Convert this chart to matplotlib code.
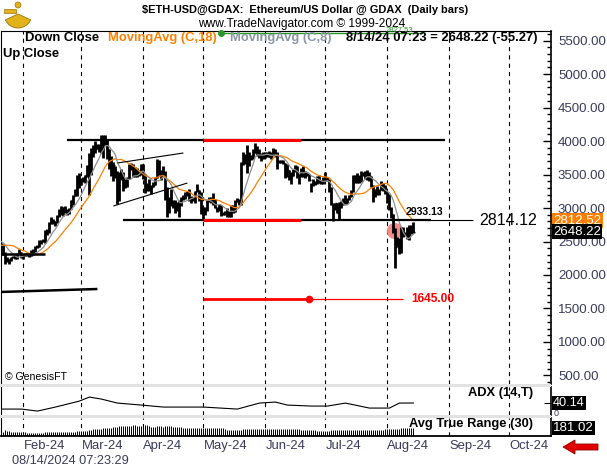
import matplotlib
matplotlib.use("Agg")
import matplotlib.pyplot as plt
import matplotlib.dates as mdates
import matplotlib.transforms as mtrans
from matplotlib.patches import Rectangle, Polygon, Wedge, Circle
from matplotlib.ticker import MultipleLocator, FormatStrFormatter
import pandas as pd

plt.rcParams['font.family'] = ['Liberation Sans', 'DejaVu Sans']
plt.rcParams['lines.scale_dashes'] = False

# ---------------- data (daily bars, 2024-01-21 .. 2024-08-14) ----------------
first_day = '2024-01-21'
# closes of the days before the first shown bar (only feed the moving averages)
warmup_closes = [2270, 2268, 2240, 2222, 2330, 2345, 2585, 2620, 2525, 2575,
                 2470, 2510, 2585, 2530, 2470, 2490, 2470]

closes = [
    # Jan
    2455, 2315, 2243, 2236, 2218, 2268, 2267, 2257, 2318, 2343, 2283,
    # Feb
    2303, 2309, 2296, 2289, 2301, 2373, 2425, 2420, 2486, 2501, 2507, 2660, 2643, 2775, 2824,
    2803, 2785, 2881, 2945, 3014, 2967, 2972, 2922, 2992, 3113, 3180, 3240, 3385, 3342,
    # Mar
    3434, 3420, 3488, 3630, 3552, 3820, 3868, 3883, 3905, 3878, 4066, 3980, 4005, 3880, 3735,
    3525, 3640, 3520, 3160, 3515, 3495, 3335, 3325, 3455, 3590, 3590, 3500, 3560, 3510, 3505, 3645,
    # Apr
    3505, 3280, 3310, 3330, 3320, 3350, 3455, 3700, 3505, 3545, 3505, 3230, 3010, 3155, 3100,
    3085, 2985, 3065, 3055, 3155, 3150, 3200, 3220, 3140, 3155, 3130, 3250, 3265, 3215, 3015,
    # May
    2970, 2990, 3105, 3120, 3135, 3060, 3005, 2975, 3035, 2910, 2910, 2935, 2950, 2880, 3035,
    2945, 3090, 3120, 3070, 3660, 3790, 3740, 3780, 3730, 3750, 3825, 3890, 3840, 3765, 3745, 3760,
    # Jun
    3815, 3780, 3765, 3810, 3865, 3810, 3680, 3680, 3705, 3665, 3500, 3560, 3470, 3480, 3565,
    3620, 3510, 3480, 3560, 3515, 3520, 3490, 3420, 3350, 3390, 3370, 3450, 3380, 3380, 3435,
    # Jul
    3440, 3420, 3295, 3060, 2980, 3070, 2930, 3020, 3065, 3100, 3100, 3130, 3180, 3250, 3485,
    3445, 3390, 3425, 3505, 3515, 3535, 3440, 3480, 3335, 3175, 3275, 3250, 3270, 3320, 3280, 3230,
    # Aug
    3200, 2990, 2905, 2690, 2420, 2460, 2340, 2680, 2600, 2610, 2555, 2720, 2703.49, 2648.22,
]
highs = [
    2480, 2460, 2350, 2265, 2240, 2275, 2280, 2305, 2325, 2390, 2350,
    2310, 2330, 2325, 2310, 2370, 2390, 2430, 2450, 2520, 2515, 2535, 2665, 2685, 2785, 2865,
    2830, 2810, 2890, 2985, 3030, 3010, 3030, 2990, 3005, 3115, 3190, 3290, 3490, 3520,
    3450, 3460, 3490, 3640, 3822, 3900, 3935, 3995, 3950, 3960, 4090, 4090, 4085, 4020, 3880,
    3780, 3680, 3630, 3545, 3530, 3580, 3530, 3440, 3465, 3660, 3670, 3660, 3610, 3590, 3560, 3650,
    3650, 3505, 3370, 3440, 3340, 3390, 3465, 3725, 3720, 3560, 3620, 3555, 3310, 3170, 3280,
    3125, 3120, 3095, 3125, 3170, 3195, 3240, 3255, 3290, 3175, 3165, 3260, 3355, 3275, 3240,
    3020, 3020, 3125, 3170, 3170, 3220, 3130, 3020, 3060, 3050, 2945, 2960, 2995, 2955, 3045,
    3040, 3120, 3145, 3135, 3690, 3840, 3810, 3935, 3830, 3790, 3880, 3975, 3930, 3880, 3825, 3840,
    3830, 3835, 3850, 3830, 3890, 3880, 3840, 3715, 3720, 3715, 3670, 3655, 3560, 3535, 3585,
    3645, 3620, 3510, 3595, 3625, 3550, 3525, 3510, 3380, 3430, 3400, 3480, 3490, 3415, 3460,
    3530, 3470, 3430, 3310, 3070, 3080, 3080, 3090, 3110, 3150, 3200, 3150, 3200, 3275, 3495,
    3495, 3515, 3490, 3545, 3540, 3545, 3565, 3540, 3485, 3340, 3290, 3330, 3290, 3400, 3370, 3350,
    3240, 3215, 3020, 2910, 2700, 2560, 2550, 2720, 2710, 2640, 2720, 2740, 2740, 2785,
]
lows = [
    2450, 2300, 2170, 2195, 2170, 2203, 2250, 2240, 2245, 2310, 2260,
    2240, 2290, 2290, 2275, 2280, 2300, 2350, 2400, 2415, 2470, 2490, 2480, 2600, 2630, 2755,
    2765, 2730, 2780, 2870, 2895, 2880, 2925, 2900, 2910, 2985, 3040, 3180, 3180, 3300,
    3340, 3390, 3380, 3460, 3200, 3500, 3760, 3820, 3875, 3830, 3820, 3740, 3940, 3725, 3580,
    3480, 3400, 3450, 3060, 3100, 3420, 3250, 3300, 3310, 3430, 3560, 3460, 3465, 3470, 3480, 3500,
    3430, 3220, 3250, 3255, 3210, 3310, 3340, 3450, 3490, 3415, 3480, 3120, 2870, 2925, 3030,
    2995, 2920, 2960, 2870, 3030, 3125, 3140, 3180, 3110, 3075, 3105, 3075, 3240, 3110, 2915,
    2815, 2890, 2955, 3090, 3080, 3045, 2995, 2935, 2955, 2880, 2890, 2900, 2870, 2865, 2865,
    2930, 2945, 3090, 3050, 3050, 3635, 3655, 3520, 3625, 3720, 3735, 3825, 3775, 3740, 3705, 3730,
    3750, 3760, 3755, 3730, 3780, 3755, 3575, 3665, 3665, 3650, 3445, 3470, 3425, 3360, 3475,
    3540, 3450, 3365, 3460, 3470, 3450, 3480, 3410, 3240, 3330, 3340, 3360, 3370, 3365, 3360,
    3425, 3405, 3240, 3050, 2810, 2970, 2930, 2825, 3005, 3045, 3055, 3060, 3125, 3160, 3240,
    3370, 3370, 3375, 3385, 3480, 3435, 3415, 3400, 3320, 3085, 3170, 3200, 3195, 3270, 3250, 3210,
    3080, 2970, 2850, 2630, 2110, 2420, 2310, 2330, 2560, 2580, 2540, 2520, 2610, 2620,
]

# ADX (14,T)
adx_dates = ['2024-01-21', '2024-01-31', '2024-02-08', '2024-02-17', '2024-02-29', '2024-03-05',
             '2024-03-11', '2024-03-19', '2024-03-31', '2024-04-11', '2024-05-01', '2024-05-18',
             '2024-05-29', '2024-06-06', '2024-06-12', '2024-06-24', '2024-07-02', '2024-07-11',
             '2024-07-23', '2024-08-02', '2024-08-07', '2024-08-14']
adx_values = [28, 28, 24, 32, 44, 52, 48, 40, 36, 32, 32, 28, 40, 42, 36, 34, 34, 40, 30, 30, 40, 40.14]

# drawn studies: (start date, end date, start price, end price)
resistance = ('2024-02-23', '2024-08-30', 4015, 4015)
resistance_red = ('2024-05-01', '2024-06-19', 4015, 4015)
support = ('2024-03-22', '2024-08-23', 2814.12, 2814.12)
support_ext = ('2024-08-20', '2024-09-13', 2814.12, 2814.12)
support_red = ('2024-05-01', '2024-06-19', 2814.12, 2814.12)
channel_top = ('2024-03-19', '2024-04-21', 3672, 3821)
channel_bottom = ('2024-03-17', '2024-04-23', 3030, 3373)
base_line = ('2024-01-20', '2024-02-12', 2315, 2315)
low_line = ('2024-01-20', '2024-03-09', 1746, 1791)
target_red = ('2024-05-01', '2024-06-23', 1645, 1645)
target_ext = ('2024-06-23', '2024-08-09', 1645, 1645)
green_line = ('2024-05-10', '2024-08-19', 5612, 5612)

month_ticks = ['2024-02-01', '2024-03-01', '2024-04-01', '2024-05-01', '2024-06-01',
               '2024-07-01', '2024-08-01', '2024-09-01', '2024-10-01']
month_labels = ['Feb-24', 'Mar-24', 'Apr-24', 'May-24', 'Jun-24', 'Jul-24', 'Aug-24', 'Sep-24', 'Oct-24']
price_ticks = list(range(500, 5501, 500))

# ---------------- derived studies ----------------
dates = pd.date_range(first_day, periods=len(closes), freq='D')
x = mdates.date2num(dates)
allc = pd.Series(warmup_closes + closes)
ma18 = allc.rolling(18).mean().values[len(warmup_closes):]
ma8 = allc.rolling(8).mean().values[len(warmup_closes):]
prev = pd.Series([warmup_closes[-1]] + closes[:-1])
h = pd.Series(highs)
l = pd.Series(lows)
tr = pd.concat([h - l, (h - prev).abs(), (l - prev).abs()], axis=1).max(axis=1)
atr = tr.rolling(30, min_periods=1).mean().values


def d(s):
    return mdates.date2num(pd.Timestamp(s))


# ---------------- figure ----------------
W, H = 607, 470
fig = plt.figure(figsize=(W / 100, H / 100), dpi=100)


def rect(x0, y0, x1, y1):
    return [x0 / W, 1 - y1 / H, (x1 - x0) / W, (y1 - y0) / H]


ax = fig.add_axes(rect(1, 31, 551, 384))
ax_adx = fig.add_axes(rect(1, 387, 551, 415), sharex=ax)
ax_atr = fig.add_axes(rect(1, 418, 551, 436), sharex=ax)

x0 = d(first_day) - 0.2
ax.set_xlim(x0, x0 + 275)
ax.set_ylim(373, 5642)
ax_adx.set_ylim(16.14, 72.14)
ax_atr.set_ylim(0, 400)

lab_col = '#3a3a5c'
for a in (ax, ax_adx, ax_atr):
    for s in a.spines.values():
        s.set_color('black')
    a.spines['top'].set_visible(False)
    a.spines['bottom'].set_visible(False)
    a.spines['right'].set_linewidth(1.2)
    for m in month_ticks:
        a.axvline(d(m), color='black', lw=0.8, ls=(0, (3, 3)), zorder=0.5)
ax.spines['top'].set_visible(True)
ax_atr.spines['bottom'].set_visible(True)
ax_atr.spines['bottom'].set_linewidth(1.3)

ax.yaxis.tick_right()
ax.set_yticks(price_ticks)
ax.yaxis.set_major_formatter(FormatStrFormatter('%.2f'))
ax.yaxis.set_minor_locator(MultipleLocator(100))
ax.tick_params(axis='y', which='major', direction='in', length=6, width=1,
               labelsize=9.5, labelcolor=lab_col, pad=5)
ax.tick_params(axis='y', which='minor', direction='in', length=3, width=1)

ax_adx.yaxis.tick_right()
ax_adx.set_yticks([40])
ax_adx.tick_params(axis='y', direction='in', length=5, labelright=False)
ax_atr.set_yticks([])

ax_atr.set_xticks([d(m) for m in month_ticks])
ax_atr.set_xticklabels(month_labels, ha='left')
ax_atr.tick_params(axis='x', length=0, pad=3, labelsize=9.4, labelcolor=lab_col)
for a in (ax, ax_adx):
    a.tick_params(axis='x', length=0, labelbottom=False)

# price bars
ax.vlines(x, lows, highs, colors='black', lw=2.0, zorder=2)
ax.hlines(closes, x, x + 0.7, colors='black', lw=1.0, zorder=2)
ax.plot(x, ma18, color='#ff8000', lw=0.9, zorder=3)
ax.plot(x, ma8, color='#8f8f8f', lw=0.9, zorder=3)


def seg(a, line, **kw):
    a.plot([d(line[0]), d(line[1])], [line[2], line[3]], solid_capstyle='butt', **kw)


seg(ax, resistance, color='black', lw=1.6, zorder=4)
seg(ax, resistance_red, color='#ff0000', lw=2.2, zorder=4)
seg(ax, support, color='black', lw=1.6, zorder=4)
seg(ax, support_ext, color='black', lw=0.8, zorder=4)
seg(ax, support_red, color='#ff0000', lw=2.2, zorder=4)
seg(ax, channel_top, color='black', lw=0.8, zorder=4)
seg(ax, channel_bottom, color='black', lw=0.8, zorder=4)
seg(ax, base_line, color='black', lw=1.8, zorder=4)
seg(ax, low_line, color='black', lw=1.8, zorder=4)
seg(ax, target_red, color='#ff0000', lw=2.0, zorder=4)
seg(ax, target_ext, color='#ff0000', lw=0.9, zorder=4)
ax.plot([d(target_red[1])], [target_red[3]], 'o', color='#ff0000', ms=4.5, zorder=5)
seg(ax, green_line, color='#2a962a', lw=1.0, zorder=4, clip_on=False)
ax.plot([d(green_line[0])], [green_line[2]], 'o', color='#2a962a', ms=4, zorder=5, clip_on=False)

ax.scatter([d('2024-08-04 18:00')], [2657], s=135, color='#f27f7f', alpha=0.9,
           edgecolors='none', zorder=1.5)

ax.text(d('2024-08-10'), 2935, '2933.13', fontsize=7.6, fontweight='bold', va='center', zorder=6)
ax.text(d('2024-09-15 18:00'), 2814.12, '2814.12', fontsize=11.5, va='center', zorder=6)
ax.text(d('2024-08-13'), 1645, '1645.00', fontsize=8.6, fontweight='bold', color='#ff0000',
        va='center', zorder=6)

# value boxes on the right
btr = mtrans.blended_transform_factory(ax.transAxes, ax.transData)
ax.text(1.004, 2812.52, '2812.52', transform=btr, color='white', fontsize=9.5, va='center',
        bbox=dict(boxstyle='square,pad=0.1', fc='#ff8000', ec='none'), clip_on=False, zorder=7)
ax.text(1.004, 2648.22, '2648.22', transform=btr, color='white', fontsize=9.5, va='center',
        bbox=dict(boxstyle='square,pad=0.1', fc='black', ec='none'), clip_on=False, zorder=7)

# ADX pane
ax_adx.plot([d(s) for s in adx_dates], adx_values, color='black', lw=0.8)
ax_adx.text(1.004, 40.14, '40.14', transform=mtrans.blended_transform_factory(ax_adx.transAxes, ax_adx.transData),
            color='white', fontsize=9.2, va='center',
            bbox=dict(boxstyle='square,pad=0.1', fc='black', ec='none'), clip_on=False, zorder=7)

# ATR pane
ax_atr.vlines(x, 0, atr, colors='black', lw=0.7)
ax_atr.text(1.004, 181.02, '181.02', transform=mtrans.blended_transform_factory(ax_atr.transAxes, ax_atr.transData),
            color='white', fontsize=9.5, va='center',
            bbox=dict(boxstyle='square,pad=0.1', fc='black', ec='none'), clip_on=False, zorder=7)

# ---------------- overlay in pixel coords ----------------
ov = fig.add_axes([0, 0, 1, 1], zorder=10)
ov.set_xlim(0, W)
ov.set_ylim(H, 0)
ov.axis('off')
ov.patch.set_alpha(0)

ov.add_patch(Rectangle((0, 384), 551, 3, fc='#e2e2e2', ec='none'))
ov.add_patch(Rectangle((0, 415), 551, 3, fc='#e2e2e2', ec='none'))

ov.text(305, 10, '$ETH-USD@GDAX:  Ethereum/US Dollar @ GDAX  (Daily bars)', ha='center', va='center',
        fontsize=7.9, fontweight='bold')
ov.text(302, 24, 'www.TradeNavigator.com \u00a9 1999-2024', ha='center', va='center', fontsize=8.6)

ov.text(25, 38, 'Down Close', fontsize=9.4, fontweight='bold', va='center')
ov.text(108, 38, 'MovingAvg (C,18)', fontsize=9.4, fontweight='bold', va='center', color='#ff8000')
ov.text(230, 38, 'MovingAvg (C,8)', fontsize=9.4, fontweight='bold', va='center', color='#8a96a2')
ov.text(346, 38, '8/14/24 07:23 = 2648.22 (-55.27)', fontsize=9.4, fontweight='bold', va='center')
ov.text(3, 54, 'Up Close', fontsize=9.4, fontweight='bold', va='center')
ov.text(386, 30, '2827.53', fontsize=5.5, color='#2a962a', va='center')

ov.text(5, 377, '\u00a9 GenesisFT', fontsize=7.6, va='center')
ov.text(533, 393, 'ADX (14,T)', fontsize=9.3, fontweight='bold', ha='right', va='center')
ov.text(533, 424, 'Avg True Range (30)', fontsize=9.3, fontweight='bold', ha='right', va='center')
ov.text(554, 413, '0', fontsize=6.5, color=lab_col, va='center')
ov.text(12, 461, '08/14/2024 07:23:29', fontsize=9.2, color=lab_col, va='center')

ov.add_patch(Polygon([(563, 447), (575, 440), (575, 444), (598, 444), (598, 450), (575, 450), (575, 454)],
                     closed=True, fc='#e00000', ec='#900000', lw=0.6))

# logo (sextant)
gold, dark = '#e2b21a', '#9a7410'
ov.add_patch(Wedge((18, 14), 14, 25, 155, fc=gold, ec=dark, lw=0.6))
ov.add_patch(Rectangle((4, 9), 12, 4, fc=gold, ec=dark, lw=0.5))
ov.add_patch(Circle((18, 5), 3, fc=gold, ec=dark, lw=0.5))

fig.savefig('out.png', dpi=100)
